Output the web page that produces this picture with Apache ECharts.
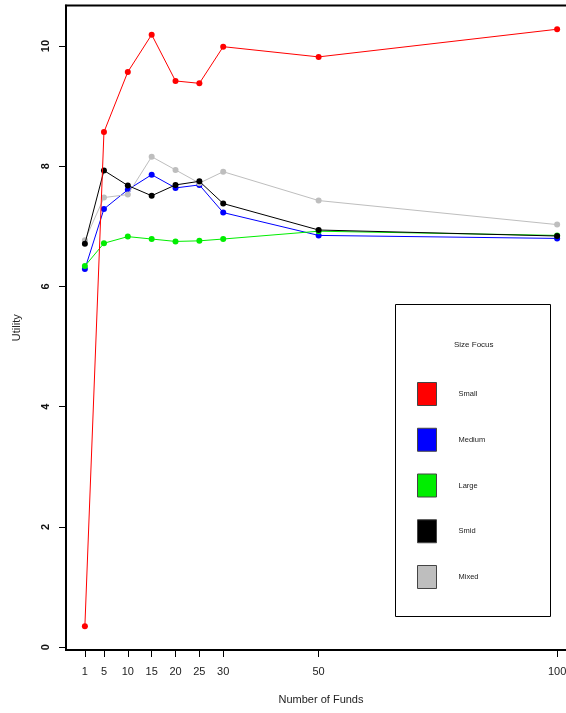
<!DOCTYPE html>
<html>
<head>
<meta charset="utf-8">
<script src="https://cdn.jsdelivr.net/npm/echarts@6/dist/echarts.min.js"></script>
<style>
  html, body { margin: 0; padding: 0; background: #fff; }
  #chart { width: 566px; height: 713px; }
</style>
</head>
<body>
<div id="chart"></div>
<script>
// Number of funds held (x) and utility for each size focus
const funds = [1, 5, 10, 15, 20, 25, 30, 50, 100];
const xTicks = [1, 5, 10, 15, 20, 25, 30, 50, 100];
const yTicks = [0, 2, 4, 6, 8, 10];

const small  = [0.35, 8.57, 9.57, 10.19, 9.42, 9.38, 9.99, 9.82, 10.28];
const medium = [6.29, 7.29, 7.61, 7.86, 7.64, 7.69, 7.23, 6.85, 6.80];
const large  = [6.34, 6.72, 6.83, 6.79, 6.75, 6.76, 6.79, 6.92, 6.85];
const smid   = [6.71, 7.93, 7.68, 7.51, 7.69, 7.75, 7.38, 6.94, 6.84];
const mixed  = [6.77, 7.48, 7.53, 8.16, 7.94, 7.72, 7.91, 7.43, 7.03];

const groups = [
  { name: 'Small',  values: small,  color: '#ff0000', z: 6 },
  { name: 'Medium', values: medium, color: '#0000ff', z: 2 },
  { name: 'Large',  values: large,  color: '#00ee00', z: 4 },
  { name: 'Smid',   values: smid,   color: '#000000', z: 5 },
  { name: 'Mixed',  values: mixed,  color: '#bebebe', z: 3 }
];

const font = '"Liberation Sans", Arial, sans-serif';
const chart = echarts.init(document.getElementById('chart'), null, { renderer: 'canvas' });

chart.setOption({
  animation: false,
  backgroundColor: '#fff',
  grid: {
    left: 66, top: 5.5, width: 510, height: 644.5,
    outerBoundsMode: 'none',
    containLabel: false,
    show: true, borderColor: '#000', borderWidth: 2, backgroundColor: 'transparent'
  },
  xAxis: {
    type: 'value',
    min: -2.96, max: 103.96,
    name: 'Number of Funds',
    nameLocation: 'middle',
    nameGap: 44,
    nameTextStyle: { fontFamily: font, fontSize: 11, color: '#222' },
    axisLine: { show: true, onZero: false, lineStyle: { color: '#000', width: 2 } },
    axisTick: { show: true, length: 7, lineStyle: { color: '#000', width: 1 }, customValues: xTicks },
    axisLabel: { margin: 16, fontFamily: font, fontSize: 11, color: '#222', customValues: xTicks },
    splitLine: { show: false }
  },
  yAxis: {
    type: 'value',
    min: -0.047, max: 10.675,
    name: 'Utility',
    nameLocation: 'middle',
    nameGap: 44,
    nameRotate: 90,
    nameTextStyle: { fontFamily: font, fontSize: 11, color: '#222' },
    axisLine: { show: true, onZero: false, lineStyle: { color: '#000', width: 2 } },
    axisTick: { show: true, length: 7, lineStyle: { color: '#000', width: 1 }, customValues: yTicks },
    axisLabel: { margin: 15, rotate: 90, fontFamily: font, fontSize: 11, color: '#111', fontWeight: 'bold', customValues: yTicks },
    splitLine: { show: false }
  },
  title: {
    text: 'Size Focus',
    left: 454, top: 341,
    padding: 0,
    textStyle: { fontFamily: font, fontSize: 8, fontWeight: 'normal', color: '#222' }
  },
  legend: {
    data: groups.map(g => g.name),
    orient: 'vertical',
    left: 417, top: 382,
    padding: 0,
    icon: 'rect',
    itemWidth: 19, itemHeight: 23,
    itemGap: 21.75,
    itemStyle: { borderColor: '#444', borderWidth: 1 },
    textStyle: { fontFamily: font, fontSize: 7.5, color: '#222', padding: [0, 0, 0, 17] },
    selectedMode: false
  },
  graphic: [{
    type: 'rect',
    shape: { x: 395.5, y: 304.5, width: 155, height: 312 },
    style: { fill: 'none', stroke: '#000', lineWidth: 1 },
    z: 1
  }],
  series: groups.map(g => ({
    type: 'line',
    name: g.name,
    z: g.z,
    data: funds.map((f, i) => [f, g.values[i]]),
    symbol: 'circle',
    symbolSize: 6,
    lineStyle: { color: g.color, width: 1 },
    itemStyle: { color: g.color },
    clip: false
  }))
});
</script>
</body>
</html>
